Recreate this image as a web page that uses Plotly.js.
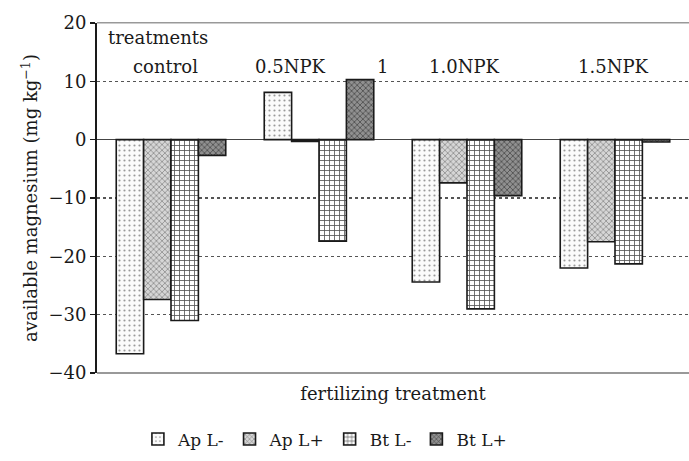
<!DOCTYPE html>
<html>
<head>
<meta charset="utf-8">
<script src="https://cdn.plot.ly/plotly-3.0.1.min.js"></script>
<style>html,body{margin:0;padding:0;background:#fff;}#chart{width:689px;height:461px;}</style>
</head>
<body>
<div id="chart"></div>
<script>
const categories = ["control", "0.5NPK", "1.0NPK", "1.5NPK"];
const seriesNames = ["Ap L-", "Ap L+", "Bt L-", "Bt L+"];
const apLminus = [-36.7, 8.1, -24.4, -22.0];
const apLplus  = [-27.4, -0.3, -7.4, -17.5];
const btLminus = [-31.0, -17.4, -29.0, -21.3];
const btLplus  = [-2.7, 10.3, -9.6, -0.4];
const yTicks = [20, 10, 0, -10, -20, -30, -40];
const yTickText = ["20", "10", "0", "\u221210", "\u221220", "\u221230", "\u221240"];

const FONT = "DejaVu Serif, Liberation Serif, serif";
const FS = 18;
const patterns = [
  {shape: ".", bgcolor: "#fbfbfb", fgcolor: "#9a9a9a", size: 5, solidity: 0.15},
  {shape: "x", bgcolor: "#d6d6d6", fgcolor: "#666666", size: 4, solidity: 0.25},
  {shape: "+", bgcolor: "#ffffff", fgcolor: "#555555", size: 5, solidity: 0.3},
  {shape: "x", bgcolor: "#909090", fgcolor: "#3a3a3a", size: 4, solidity: 0.3}
];
const values = [apLminus, apLplus, btLminus, btLplus];

const traces = values.map((v, i) => ({
  type: "bar",
  name: seriesNames[i],
  x: categories,
  y: v,
  marker: {
    color: patterns[i].bgcolor,
    line: {color: "#1a1a1a", width: 1.6},
    pattern: patterns[i]
  },
  hoverinfo: "x+y+name"
}));

const layout = {
  width: 689, height: 461,
  margin: {l: 97, r: 0, t: 23, b: 88},
  paper_bgcolor: "#ffffff", plot_bgcolor: "#ffffff",
  font: {family: FONT, size: FS, color: "#1a1a1a"},
  barmode: "group",
  bargap: 0.26,
  bargroupgap: 0,
  showlegend: true,
  legend: {
    orientation: "h", x: 0.385, xanchor: "center", y: -0.19, yanchor: "middle",
    font: {family: FONT, size: 17, color: "#1a1a1a"},
    itemwidth: 30, tracegroupgap: 0
  },
  xaxis: {
    type: "category",
    range: [-0.5, 3.5],
    showticklabels: false,
    ticks: "",
    showgrid: false,
    zeroline: false,
    showline: false,
    title: {text: "fertilizing treatment", font: {family: FONT, size: FS, color: "#1a1a1a"}, standoff: 14}
  },
  yaxis: {
    range: [-40, 20],
    tickvals: yTicks,
    ticktext: yTickText,
    ticks: "outside", ticklen: 5, tickcolor: "#1a1a1a", tickwidth: 1.5,
    showline: true, linecolor: "#1a1a1a", linewidth: 2,
    showgrid: true, gridcolor: "#555555", griddash: "dot", gridwidth: 1.2,
    zeroline: true, zerolinecolor: "#444444", zerolinewidth: 1.5,
    tickfont: {family: FONT, size: 18, color: "#1a1a1a"},
    title: {text: "available magnesium (mg kg<sup>\u22121</sup>)", font: {family: FONT, size: 18, color: "#1a1a1a"}, standoff: 6}
  },
  shapes: [
    {type: "line", xref: "paper", yref: "paper", x0: 0, x1: 1, y0: 1, y1: 1, line: {color: "#999999", width: 2}},
    {type: "line", xref: "paper", yref: "paper", x0: 0, x1: 1, y0: 0, y1: 0, line: {color: "#999999", width: 2}},
    {type: "rect", xref: "paper", yref: "y", x0: 0, x1: 1, y0: 18.2, y1: 19.9, fillcolor: "#ffffff", line: {width: 0}, layer: "above"}
  ],
  annotations: [
    {text: "treatments", xref: "paper", yref: "paper", x: 0.016, y: 0.96, xanchor: "left", yanchor: "middle", showarrow: false, font: {family: FONT, size: FS}},
    {text: "control", xref: "paper", yref: "paper", x: (165 - 97) / 592, y: 0.876, xanchor: "center", yanchor: "middle", showarrow: false, font: {family: FONT, size: FS}},
    {text: "0.5NPK", xref: "paper", yref: "paper", x: (290 - 97) / 592, y: 0.876, xanchor: "center", yanchor: "middle", showarrow: false, font: {family: FONT, size: FS}},
    {text: "1", xref: "paper", yref: "paper", x: (382 - 97) / 592, y: 0.876, xanchor: "center", yanchor: "middle", showarrow: false, font: {family: FONT, size: FS}},
    {text: "1.0NPK", xref: "paper", yref: "paper", x: (464 - 97) / 592, y: 0.876, xanchor: "center", yanchor: "middle", showarrow: false, font: {family: FONT, size: FS}},
    {text: "1.5NPK", xref: "paper", yref: "paper", x: (613 - 97) / 592, y: 0.876, xanchor: "center", yanchor: "middle", showarrow: false, font: {family: FONT, size: FS}}
  ]
};

Plotly.newPlot("chart", traces, layout, {displayModeBar: false, staticPlot: true});
</script>
</body>
</html>
